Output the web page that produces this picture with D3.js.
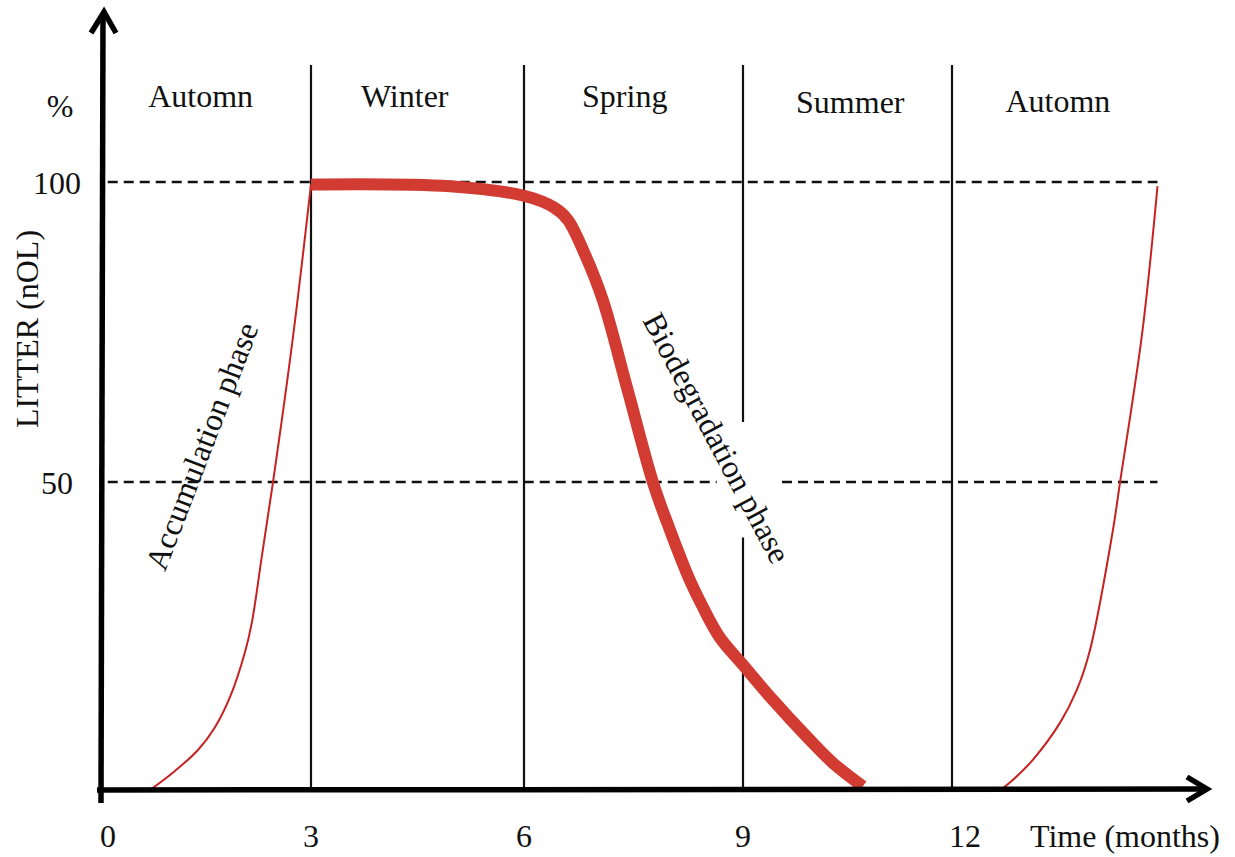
<!DOCTYPE html>
<html>
<head>
<meta charset="utf-8">
<script src="https://cdn.jsdelivr.net/npm/d3@7"></script>
<style>
  html, body { margin: 0; padding: 0; background: #fff; }
  svg { display: block; }
  text { font-family: "Liberation Serif", "DejaVu Serif", serif; fill: #111; }
</style>
</head>
<body>
<svg id="chart" width="1235" height="857"></svg>
<script>
// ---------------- data ----------------
const xTickValues = [0, 3, 6, 9, 12];
const xTickLabels = ["0", "3", "6", "9", "12"];
const yTickValues = [50, 100];
const yTickLabels = ["50", "100"];
const seasonNames = ["Automn", "Winter", "Spring", "Summer", "Automn"];
const seasonCenters = [1.43, 4.32, 7.38, 10.54, 13.52];   // months
const seasonBoundaries = [3, 6, 9, 12];                 // months

// accumulation phase (first autumn)
const accumAMonths = [0.71, 1.066, 1.393, 1.635, 1.849, 2.062, 2.161, 2.303, 2.46, 2.744, 3.0];
const accumAValues = [0, 3.1, 6.5, 10.2, 15.1, 22.4, 27.3, 38.1, 50, 74.2, 99.6];

// biodegradation phase (winter -> summer)
const bioMonths = [3.0, 4.96, 6.0, 6.42, 6.60, 6.84, 7.08, 7.42, 7.77, 8.0, 8.27, 8.45, 8.68, 9.0, 9.43, 9.92, 10.29, 10.72];
const bioValues = [99.6, 99.3, 97.7, 95.7, 93.7, 87.8, 80.3, 65.3, 49.8, 42.2, 34.1, 29.7, 24.8, 20.3, 14.6, 8.6, 4.4, 0.6];

// accumulation phase (second autumn)
const accumBMonths = [12.7, 12.9, 13.16, 13.55, 13.79, 13.98, 14.31, 14.41, 14.73, 14.95];
const accumBValues = [0, 1.9, 4.9, 10.9, 16.2, 22.7, 42.2, 49.8, 74.8, 99.3];

// reference levels
const refLevels = [100, 50];
const refStart = 0.11, refEnd = 14.95;                // months
const ref50Gap = [8.64, 9.56];                         // months (gap in 50 line)
const line9Gap = [41, 60];                             // values (gap in month-9 line)

// ---------------- drawing ----------------
const svg = d3.select("#chart");
const x = d3.scaleLinear().domain([0, 3, 6, 9, 12]).range([100, 311, 524, 743, 952]);
const y = d3.scaleLinear().domain([0, 50, 100]).range([790, 482, 182]);

const FS = 32;
const topY = 65;

// season boundary lines
seasonBoundaries.forEach(m => {
  const segs = (m === 9)
    ? [[topY, y(line9Gap[1])], [y(line9Gap[0]), y(0)]]
    : [[topY, y(0)]];
  segs.forEach(s => {
    svg.append("line")
      .attr("x1", x(m)).attr("x2", x(m))
      .attr("y1", s[0]).attr("y2", s[1])
      .attr("stroke", "#111").attr("stroke-width", 2.2);
  });
});

// dashed reference lines
refLevels.forEach(v => {
  const segs = (v === 50)
    ? [[refStart, ref50Gap[0]], [ref50Gap[1], refEnd]]
    : [[refStart, refEnd]];
  segs.forEach(s => {
    svg.append("line")
      .attr("x1", x(s[0])).attr("x2", x(s[1]))
      .attr("y1", y(v)).attr("y2", y(v))
      .attr("stroke", "#111").attr("stroke-width", 2.6)
      .attr("stroke-dasharray", "10,6");
  });
});

const line = d3.line().x(d => x(d[0])).y(d => y(d[1])).curve(d3.curveCatmullRom.alpha(0.5));

svg.append("path")
  .datum(d3.zip(accumAMonths, accumAValues))
  .attr("d", line).attr("fill", "none")
  .attr("stroke", "#c62222").attr("stroke-width", 2);

svg.append("path")
  .datum(d3.zip(accumBMonths, accumBValues))
  .attr("d", line).attr("fill", "none")
  .attr("stroke", "#c62222").attr("stroke-width", 2);

svg.append("path")
  .datum(d3.zip(bioMonths, bioValues))
  .attr("d", line).attr("fill", "none")
  .attr("stroke", "#d13b31").attr("stroke-width", 12)
  .attr("stroke-linejoin", "round").attr("stroke-linecap", "butt");

// axes
const axisX0 = x(0) + 1;
svg.append("line").attr("x1", axisX0).attr("x2", axisX0 + 2).attr("y1", 803).attr("y2", 14)
  .attr("stroke", "#000").attr("stroke-width", 5.5);
svg.append("path")
  .attr("d", `M${axisX0 - 10},33 L${axisX0 + 3},12 L${axisX0 + 15},33`)
  .attr("fill", "none").attr("stroke", "#000").attr("stroke-width", 5.5)
  .attr("stroke-linejoin", "miter");
svg.append("line").attr("x1", 97).attr("x2", 1205).attr("y1", y(0)).attr("y2", y(0) - 1)
  .attr("stroke", "#000").attr("stroke-width", 5.5);
svg.append("path")
  .attr("d", `M1187,${y(0) - 13} L1207,${y(0) - 1} L1187,${y(0) + 11}`)
  .attr("fill", "none").attr("stroke", "#000").attr("stroke-width", 5.5);

// x tick labels
const xLabelDx = [8, 0, 0, 0, 13];
xTickValues.forEach((v, i) => {
  svg.append("text")
    .attr("x", x(v) + xLabelDx[i]).attr("y", 847)
    .attr("text-anchor", "middle").attr("font-size", FS)
    .text(xTickLabels[i]);
});
svg.append("text").attr("x", 1030).attr("y", 847)
  .attr("font-size", FS).text("Time (months)");

// y tick labels
yTickValues.forEach((v, i) => {
  svg.append("text")
    .attr("x", 57).attr("y", y(v) + 12)
    .attr("text-anchor", "middle").attr("font-size", FS)
    .text(yTickLabels[i]);
});
svg.append("text").attr("x", 60).attr("y", 117)
  .attr("text-anchor", "middle").attr("font-size", FS).text("%");

// y axis title
svg.append("text")
  .attr("transform", "translate(38,329) rotate(-90)")
  .attr("text-anchor", "middle").attr("font-size", FS)
  .text("LITTER (nOL)");

// season labels
const seasonDy = [0, 0, 0, 6, 5];
seasonNames.forEach((s, i) => {
  svg.append("text")
    .attr("x", x(seasonCenters[i])).attr("y", 107 + seasonDy[i])
    .attr("text-anchor", "middle").attr("font-size", FS)
    .text(s);
});

// phase labels
svg.append("text")
  .attr("transform", `translate(${x(1.45) + 10},450) rotate(-69)`)
  .attr("text-anchor", "middle").attr("font-size", FS)
  .text("Accumulation phase");

svg.append("text")
  .attr("transform", `translate(${x(8.4) + 8},443) rotate(62)`)
  .attr("text-anchor", "middle").attr("font-size", FS)
  .text("Biodegradation phase");
</script>
</body>
</html>
